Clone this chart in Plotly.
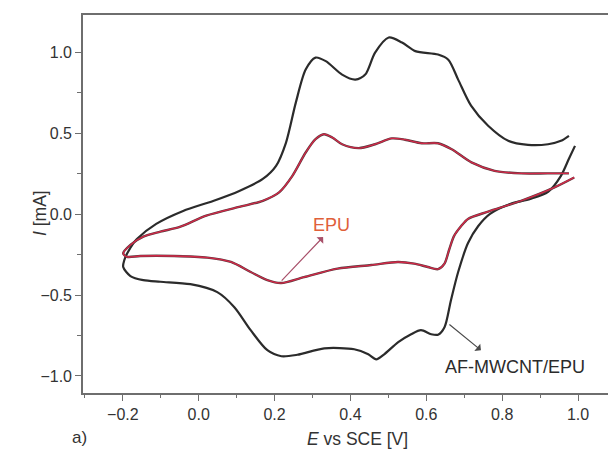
import plotly.graph_objects as go

# AF-MWCNT/EPU (black): reverse branch (1.0 V -> -0.2 V) then forward branch (-0.2 V -> 1.0 V)
af_E = [0.992, 0.976, 0.955, 0.921, 0.874, 0.821, 0.768, 0.737, 0.710, 0.684, 0.665, 0.648,
        0.631, 0.613, 0.586, 0.560, 0.526, 0.489, 0.468, 0.447, 0.410, 0.331, 0.260, 0.218,
        0.181, 0.137, 0.094, 0.049, -0.022, -0.101, -0.146, -0.180, -0.199,
        -0.196, -0.188, -0.172, -0.163, -0.112, -0.041, 0.038, 0.107, 0.169, 0.204, 0.230,
        0.256, 0.282, 0.308, 0.335, 0.378, 0.413, 0.439, 0.465, 0.501, 0.536, 0.571, 0.631,
        0.658, 0.684, 0.718, 0.763, 0.816, 0.868, 0.921, 0.955, 0.976]
af_I = [0.421, 0.341, 0.236, 0.137, 0.093, 0.062, 0.001, -0.074, -0.179, -0.358, -0.532, -0.699,
        -0.745, -0.742, -0.717, -0.742, -0.791, -0.866, -0.897, -0.866, -0.835, -0.829, -0.869, -0.878,
        -0.841, -0.717, -0.575, -0.482, -0.433, -0.418, -0.408, -0.383, -0.327,
        -0.284, -0.241, -0.179, -0.154, -0.061, 0.019, 0.081, 0.143, 0.217, 0.298, 0.440,
        0.688, 0.892, 0.966, 0.944, 0.861, 0.830, 0.861, 0.997, 1.090, 1.059, 1.006, 0.985,
        0.953, 0.830, 0.669, 0.545, 0.452, 0.427, 0.431, 0.452, 0.483]

# EPU (red)
epu_E = [0.990, 0.938, 0.850, 0.763, 0.710, 0.692, 0.673, 0.660, 0.648, 0.631, 0.604, 0.568,
         0.525, 0.455, 0.366, 0.278, 0.217, 0.181, 0.137, 0.085, 0.023, -0.065, -0.154, -0.189, -0.199,
         -0.180, -0.146, -0.101, -0.048, 0.020, 0.107, 0.169, 0.212, 0.247, 0.282, 0.308, 0.330,
         0.352, 0.378, 0.422, 0.465, 0.509, 0.544, 0.588, 0.631, 0.667, 0.719, 0.780, 0.850,
         0.920, 0.976]
epu_I = [0.226, 0.165, 0.082, 0.015, -0.030, -0.074, -0.136, -0.222, -0.306, -0.340, -0.327, -0.306,
         -0.296, -0.315, -0.337, -0.389, -0.426, -0.408, -0.358, -0.296, -0.269, -0.259, -0.259, -0.264, -0.243,
         -0.191, -0.140, -0.109, -0.078, -0.010, 0.044, 0.082, 0.134, 0.236, 0.380, 0.462, 0.493,
         0.473, 0.431, 0.407, 0.431, 0.467, 0.459, 0.437, 0.437, 0.400, 0.319, 0.267, 0.251,
         0.251, 0.251]

x_ticks = [-0.2, 0.0, 0.2, 0.4, 0.6, 0.8, 1.0]
x_ticklabels = ["\u22120.2", "0.0", "0.2", "0.4", "0.6", "0.8", "1.0"]
y_ticks = [-1.0, -0.5, 0.0, 0.5, 1.0]
y_ticklabels = ["\u22121.0", "\u22120.5", "0.0", "0.5", "1.0"]

FONT = "Liberation Sans, Arial, sans-serif"
AXC = "#6e6e6e"

fig = go.Figure()
fig.add_trace(go.Scatter(x=af_E, y=af_I, mode="lines",
                         line=dict(color="#2b2b2b", width=2.2, shape="spline", smoothing=0.8),
                         showlegend=False, hoverinfo="skip"))
fig.add_trace(go.Scatter(x=epu_E, y=epu_I, mode="lines",
                         line=dict(color="#5a3a3e", width=2.4, shape="spline", smoothing=0.8),
                         showlegend=False, hoverinfo="skip"))
fig.add_trace(go.Scatter(x=epu_E, y=epu_I, mode="lines",
                         line=dict(color="#d42848", width=1.3, shape="spline", smoothing=0.8),
                         showlegend=False, hoverinfo="skip"))

fig.update_layout(
    width=608, height=453,
    margin=dict(l=83, r=0, t=15, b=60),
    paper_bgcolor="white", plot_bgcolor="white",
    font=dict(family=FONT, size=16, color="#333333"),
    xaxis=dict(range=[-0.305, 1.079], showgrid=False, zeroline=False,
               showline=True, linecolor=AXC, linewidth=1.6, mirror=True,
               tickmode="array", tickvals=x_ticks, ticktext=x_ticklabels,
               ticks="outside", ticklen=6, tickwidth=1.4, tickcolor=AXC,
               minor=dict(dtick=0.1, tick0=0, ticks="outside", ticklen=3, tickwidth=1.2, tickcolor=AXC),
               tickfont=dict(size=16, color="#333333")),
    yaxis=dict(range=[-1.105, 1.229], showgrid=False, zeroline=False,
               showline=True, linecolor=AXC, linewidth=1.6, mirror=False,
               tickmode="array", tickvals=y_ticks, ticktext=y_ticklabels,
               ticks="outside", ticklen=6, tickwidth=1.4, tickcolor=AXC,
               minor=dict(dtick=0.25, tick0=0, ticks="outside", ticklen=4, tickwidth=1.2, tickcolor=AXC),
               tickfont=dict(size=16, color="#333333")),
)

ann = []
# axis titles
ann.append(dict(text="<i>E</i> vs SCE [V]", xref="paper", yref="paper", x=0.522, y=-0.123,
                showarrow=False, xanchor="center", yanchor="middle", font=dict(size=17.5, color="#333333")))
ann.append(dict(text="<i>I</i> [mA]", xref="paper", yref="paper", x=-0.082, y=0.476, textangle=-90,
                showarrow=False, xanchor="center", yanchor="middle", font=dict(size=17.5, color="#333333")))
ann.append(dict(text="a)", xref="paper", yref="paper", x=-0.006, y=-0.117,
                showarrow=False, xanchor="center", yanchor="middle", font=dict(size=17, color="#333333")))
# labels
ann.append(dict(text="EPU", x=0.351, y=-0.067, xref="x", yref="y", showarrow=False,
                font=dict(size=18, color="#e0603a")))
ann.append(dict(text="AF-MWCNT/EPU", x=0.834, y=-0.946, xref="x", yref="y", showarrow=False,
                font=dict(size=18, color="#2b2b2b")))
# arrows
ann.append(dict(text="", x=0.328, y=-0.142, ax=0.215, ay=-0.420, xref="x", yref="y",
                axref="x", ayref="y", showarrow=True, arrowhead=1, arrowsize=1.3,
                arrowwidth=1.2, arrowcolor="#a8506a"))
ann.append(dict(text="", x=0.744, y=-0.841, ax=0.657, ay=-0.674, xref="x", yref="y",
                axref="x", ayref="y", showarrow=True, arrowhead=1, arrowsize=1.3,
                arrowwidth=1.2, arrowcolor="#4a4a4a"))
fig.update_layout(annotations=ann)

fig.write_html("out.html")
